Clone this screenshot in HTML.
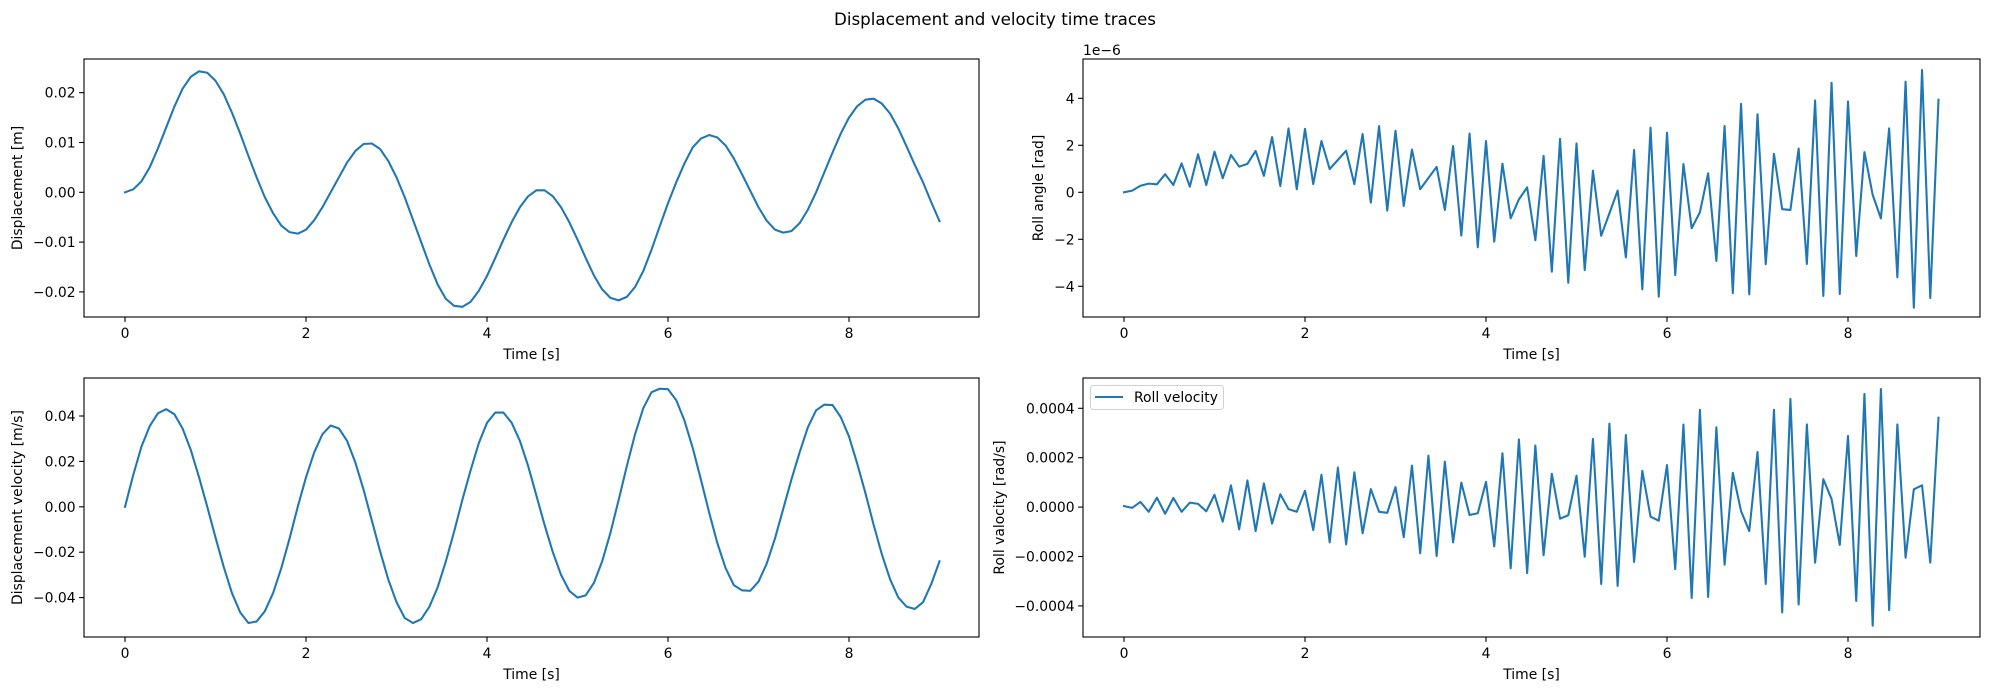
<!DOCTYPE html>
<html><head><meta charset="utf-8"><title>Displacement and velocity time traces</title>
<style>
html,body{margin:0;padding:0;background:#fff;}
svg{display:block;font-family:"DejaVu Sans","Liberation Sans",sans-serif;}
</style></head>
<body>
<svg id="fig" width="1990" height="691" viewBox="0 0 1990 691" xmlns="http://www.w3.org/2000/svg">
<rect width="1990" height="691" fill="#fff"/>
<text x="995" y="25" font-size="16.7" text-anchor="middle" fill="#000">Displacement and velocity time traces</text>
</svg>
<script>
// time grid: 100 samples from 0 to 9 s
const sampleCount = 100;
const tMax = 9;
const xTicks = [0, 2, 4, 6, 8];

const displacement = [0,0.0006,0.0022,0.0050,0.0088,0.0130,0.0172,0.0208,0.0232,0.0243,
0.0240,0.0224,0.0197,0.0160,0.0118,0.0073,0.0030,-0.0010,-0.0042,-0.0067,
-0.0080,-0.0083,-0.0075,-0.0056,-0.0030,0.0000,0.0030,0.0060,0.0083,0.0097,
0.0098,0.0087,0.0063,0.0030,-0.0010,-0.0055,-0.0100,-0.0145,-0.0185,-0.0214,
-0.0228,-0.0230,-0.0220,-0.0198,-0.0168,-0.0132,-0.0095,-0.0060,-0.0030,-0.0008,
0.0004,0.0004,-0.0008,-0.0030,-0.0060,-0.0095,-0.0132,-0.0167,-0.0195,-0.0212,
-0.0217,-0.0210,-0.0190,-0.0158,-0.0115,-0.0068,-0.0022,0.0020,0.0058,0.0090,
0.0108,0.0115,0.0110,0.0094,0.0068,0.0036,0.0003,-0.0030,-0.0057,-0.0075,
-0.0081,-0.0078,-0.0062,-0.0035,0.0000,0.0040,0.0080,0.0118,0.0150,0.0173,
0.0186,0.0188,0.0178,0.0158,0.0128,0.0092,0.0055,0.0020,-0.0020,-0.0058];

const dispVelocity = [0,0.0140,0.0265,0.0355,0.0412,0.0430,0.0408,0.0345,0.0250,0.0130,
0.0000,-0.0135,-0.0265,-0.0380,-0.0465,-0.0512,-0.0505,-0.0460,-0.0380,-0.0270,
-0.0140,0.0000,0.0130,0.0240,0.0320,0.0358,0.0345,0.0290,0.0195,0.0075,
-0.0060,-0.0195,-0.0320,-0.0420,-0.0490,-0.0512,-0.0495,-0.0440,-0.0355,-0.0240,
-0.0110,0.0030,0.0160,0.0280,0.0370,0.0415,0.0415,0.0370,0.0290,0.0180,
0.0050,-0.0080,-0.0200,-0.0300,-0.0370,-0.0400,-0.0390,-0.0335,-0.0240,-0.0115,
0.0030,0.0180,0.0320,0.0435,0.0505,0.0520,0.0518,0.0470,0.0380,0.0260,
0.0120,-0.0025,-0.0160,-0.0270,-0.0345,-0.0368,-0.0370,-0.0330,-0.0250,-0.0140,
-0.0010,0.0120,0.0240,0.0350,0.0425,0.0450,0.0448,0.0395,0.0310,0.0190,
0.0060,-0.0080,-0.0210,-0.0320,-0.0400,-0.0440,-0.0450,-0.0420,-0.0340,-0.0240];

// roll angle in units of 1e-6 rad
const rollAngle = [0,0.07,0.28,0.37,0.34,0.77,0.31,1.23,0.24,1.62,
0.31,1.73,0.60,1.59,1.09,1.21,1.76,0.70,2.35,0.27,
2.72,0.13,2.70,0.35,2.18,0.99,1.38,1.77,0.35,2.48,
-0.44,2.82,-0.78,2.62,-0.58,1.82,0.13,0.61,1.08,-0.75,
1.97,-1.84,2.50,-2.34,2.18,-2.10,1.22,-1.11,-0.30,0.21,
-2.04,1.55,-3.38,2.27,-3.85,2.08,-3.31,0.92,-1.85,-0.89,
0.07,-2.77,1.80,-4.13,2.75,-4.44,2.54,-3.52,1.20,-1.53,
-0.85,0.81,-2.92,2.82,-4.29,3.76,-4.34,3.32,-3.06,1.64,
-0.72,-0.75,1.86,-3.05,3.91,-4.41,4.66,-4.33,3.86,-2.71,
1.71,-0.11,-1.11,2.72,-3.62,4.71,-4.91,5.20,-4.50,3.94];

// roll velocity in units of 1e-4 rad/s
const rollVelocity = [0.04,-0.03,0.21,-0.19,0.38,-0.27,0.37,-0.19,0.18,0.13,
-0.17,0.50,-0.59,0.88,-0.90,1.08,-0.97,0.96,-0.67,0.52,
-0.08,-0.19,0.66,-0.93,1.31,-1.43,1.60,-1.51,1.41,-1.06,
0.73,-0.19,-0.23,0.81,-1.22,1.68,-1.87,2.08,-1.98,1.84,
-1.43,0.99,-0.32,-0.25,1.02,-1.59,2.18,-2.48,2.74,-2.67,
2.49,-1.95,1.35,-0.47,-0.33,1.27,-2.01,2.76,-3.11,3.38,
-3.19,2.92,-2.22,1.47,-0.39,-0.55,1.70,-2.51,3.34,-3.68,
3.94,-3.64,3.23,-2.33,1.39,-0.16,-0.97,2.23,-3.11,3.94,
-4.26,4.38,-3.94,3.35,-2.25,1.13,0.33,-1.53,2.88,-3.80,
4.58,-4.80,4.78,-4.17,3.35,-2.05,0.72,0.88,-2.25,3.62];

const dispTicks = [-0.02, -0.01, 0, 0.01, 0.02];
const dispTickLabels = ["−0.02", "−0.01", "0.00", "0.01", "0.02"];
const dvelTicks = [-0.04, -0.02, 0, 0.02, 0.04];
const dvelTickLabels = ["−0.04", "−0.02", "0.00", "0.02", "0.04"];
const rollTicks = [-4, -2, 0, 2, 4];
const rollTickLabels = ["−4", "−2", "0", "2", "4"];
const rvelTicks = [-4, -2, 0, 2, 4];
const rvelTickLabels = ["−0.0004", "−0.0002", "0.0000", "0.0002", "0.0004"];

const NS = "http://www.w3.org/2000/svg";
const svg = document.getElementById("fig");
function mk(tag, attrs, parent) {
  const e = document.createElementNS(NS, tag);
  for (const k in attrs) e.setAttribute(k, attrs[k]);
  (parent || svg).appendChild(e);
  return e;
}

function panel(cfg) {
  const g = mk("g", {});
  
  
  const xs = t => cfg.x0 + t * cfg.pxPerSec;
  const ys = v => cfg.yZero - v * cfg.pxPerUnit;
  // line
  let d = "";
  cfg.values.forEach((v, i) => {
    const t = i * tMax / (sampleCount - 1);
    d += (i ? "L" : "M") + xs(t).toFixed(2) + "," + ys(v).toFixed(2);
  });
  const line = mk("path", {d: d, fill: "none", stroke: "#1f77b4", "stroke-width": 2.08, "stroke-linejoin": "round", "stroke-linecap": "square"}, g);
  
  
  // frame
  const fr = mk("rect", {x: cfg.left, y: cfg.top, width: cfg.right - cfg.left, height: cfg.bottom - cfg.top, fill: "none", stroke: "#000", "stroke-width": 1.1}, g);
  
  
  // x ticks
  xTicks.forEach(t => {
    const x = xs(t);
    mk("line", {x1: x, x2: x, y1: cfg.bottom, y2: cfg.bottom + 4.9, stroke: "#000", "stroke-width": 1.1}, g);
    const lb = mk("text", {x: x, y: cfg.bottom + 21, "font-size": 13.9, "text-anchor": "middle", fill: "#000"}, g);
    
    
    lb.textContent = String(t);
  });
  const xl = mk("text", {x: (cfg.left + cfg.right) / 2, y: cfg.bottom + 42, "font-size": 13.9, "text-anchor": "middle", fill: "#000"}, g);
  
  
  xl.textContent = "Time [s]";
  // y ticks
  cfg.yTicks.forEach((v, i) => {
    const y = ys(v);
    mk("line", {x1: cfg.left - 4.9, x2: cfg.left, y1: y, y2: y, stroke: "#000", "stroke-width": 1.1}, g);
    const lb = mk("text", {x: cfg.left - 8.4, y: y + 5, "font-size": 13.9, "text-anchor": "end", fill: "#000"}, g);
    
    
    lb.textContent = cfg.yTickLabels[i];
  });
  const yl = mk("text", {x: 0, y: 0, "font-size": 13.9, "text-anchor": "middle", fill: "#000", transform: "translate(" + (cfg.ylabelX + 5) + "," + ((cfg.top + cfg.bottom) / 2) + ") rotate(-90)"}, g);
  
  
  yl.textContent = cfg.ylabel;
  return g;
}

panel({name: "displacement-panel", left: 84, right: 979, top: 59, bottom: 317, x0: 125, pxPerSec: 90.5,
  yZero: 192.3, pxPerUnit: 4980, values: displacement, yTicks: dispTicks, yTickLabels: dispTickLabels,
  ylabel: "Displacement [m]", ylabelX: 17});
panel({name: "roll-angle-panel", left: 1083, right: 1980, top: 59, bottom: 317, x0: 1124, pxPerSec: 90.5,
  yZero: 192.3, pxPerUnit: 23.5, values: rollAngle, yTicks: rollTicks, yTickLabels: rollTickLabels,
  ylabel: "Roll angle [rad]", ylabelX: 1038});
panel({name: "displacement-velocity-panel", left: 84, right: 979, top: 378, bottom: 637, x0: 125, pxPerSec: 90.5,
  yZero: 506.8, pxPerUnit: 2270, values: dispVelocity, yTicks: dvelTicks, yTickLabels: dvelTickLabels,
  ylabel: "Displacement velocity [m/s]", ylabelX: 17});
panel({name: "roll-velocity-panel", left: 1083, right: 1980, top: 378, bottom: 637, x0: 1124, pxPerSec: 90.5,
  yZero: 507.1, pxPerUnit: 24.7, values: rollVelocity, yTicks: rvelTicks, yTickLabels: rvelTickLabels,
  ylabel: "Roll valocity [rad/s]", ylabelX: 999});

// offset text
const off = mk("text", {x: 1083, y: 55, "font-size": 13.9, fill: "#000"});


off.textContent = "1e−6";

// legend
const lg = mk("g", {});


mk("rect", {x: 1090.5, y: 385.5, width: 133, height: 24, rx: 3, fill: "#fff", "fill-opacity": 0.8, stroke: "#d0d0d0", "stroke-width": 1}, lg);
const ls = mk("line", {x1: 1095, x2: 1123, y1: 397, y2: 397, stroke: "#1f77b4", "stroke-width": 2.08}, lg);


const lt = mk("text", {x: 1134, y: 402, "font-size": 13.9, fill: "#000"}, lg);


lt.textContent = "Roll velocity";
</script>
</body></html>
